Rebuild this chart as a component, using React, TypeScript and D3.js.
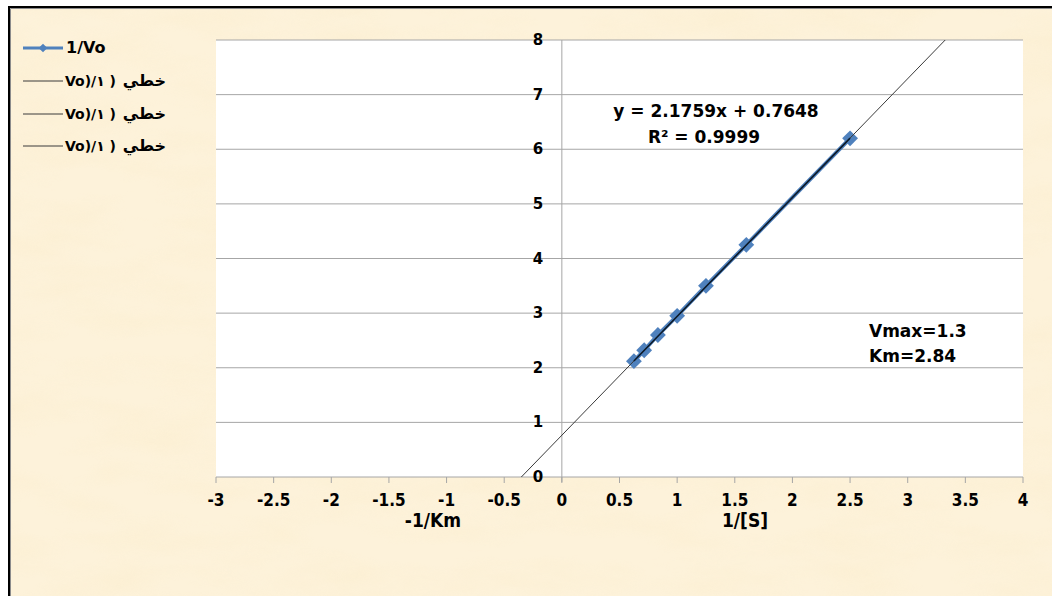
import React from 'react';
import * as d3 from 'd3';

// Lineweaver-Burk plot: 1/Vo against 1/[S], with the linear trendline
// extended back to the x axis (-1/Km).

const S_INV = [0.625, 0.714, 0.833, 1, 1.25, 1.6, 2.5];
const V_INV = [2.12, 2.32, 2.6, 2.95, 3.5, 4.25, 6.2];

const FIT_SLOPE = 2.1759;
const FIT_INTERCEPT = 0.7648;
const FIT_R2 = '0.9999';

const X_TICKS = [-3, -2.5, -2, -1.5, -1, -0.5, 0, 0.5, 1, 1.5, 2, 2.5, 3, 3.5, 4];
const Y_TICKS = [0, 1, 2, 3, 4, 5, 6, 7, 8];

const SERIES_NAME = '1/Vo';
// trendline legend entries, as they show on screen: latin part + arabic word
const TREND_NAMES = [
  ['Vo)/\u0661 )', 'خطي'],
  ['Vo)/\u0661 )', 'خطي'],
  ['Vo)/\u0661 )', 'خطي'],
];

const NOTES = ['Vmax=1.3', 'Km=2.84'];
const X_TITLES = ['-1/Km', '1/[S]'];

const W = 1052;
const H = 596;
const PLOT = { left: 216, right: 1023, top: 40, bottom: 477 };

const BLUE = '#4f81bd';
const GRID = '#a6a6a6';
const BOLD = "'DejaVu Sans', Verdana, sans-serif";
const COND = "'DejaVu Sans Condensed', 'DejaVu Sans', sans-serif";

const App = () => {
  const x = d3.scaleLinear().domain([-3, 4]).range([PLOT.left, PLOT.right]);
  const y = d3.scaleLinear().domain([0, 8]).range([PLOT.bottom, PLOT.top]);

  const pts: [number, number][] = S_INV.map((s, i) => [x(s), y(V_INV[i])]);
  const line = d3.line();

  // trendline, forecast both ways until it meets y=0 and y=8
  const xStart = -FIT_INTERCEPT / FIT_SLOPE;
  const xEnd = (8 - FIT_INTERCEPT) / FIT_SLOPE;
  const fit = (v: number) => FIT_SLOPE * v + FIT_INTERCEPT;
  const trendFull = line([[x(xStart), y(0)], [x(xEnd), y(8)]]);
  const sMin = d3.min(S_INV) as number;
  const sMax = d3.max(S_INV) as number;
  const trendData = line([[x(sMin), y(fit(sMin))], [x(sMax), y(fit(sMax))]]);

  const diamond = d3.symbol(d3.symbolSquare, 125)();

  const legendY = [48, 81, 114, 146];

  return (
    <svg width={W} height={H} style={{ position: 'absolute', left: 0, top: 0 }}>
      <defs>
        <filter id="paper" x="0" y="0" width="100%" height="100%">
          <feTurbulence type="fractalNoise" baseFrequency="0.01 0.03" numOctaves="4" seed="7" />
          <feColorMatrix
            type="matrix"
            values="0 0 0 0 0.97  0 0 0 0 0.86  0 0 0 0 0.64  1.8 0 0 0 -0.68"
          />
        </filter>
      </defs>

      <rect x={0} y={0} width={W} height={H} fill="#fff" />
      <rect x={9} y={7} width={W - 9} height={H - 7} fill="#fdf2da" />
      <rect x={9} y={7} width={W - 9} height={H - 7} filter="url(#paper)" opacity={0.75} />
      <path d={`M9,${H}V7H${W}`} fill="none" stroke="#000" strokeWidth={2} />
      <path d={`M10.5,${H}V8.5H${W}`} fill="none" stroke="#8c8c8c" strokeWidth={1} />

      <rect
        x={PLOT.left}
        y={PLOT.top}
        width={PLOT.right - PLOT.left}
        height={PLOT.bottom - PLOT.top}
        fill="#fff"
      />

      {Y_TICKS.map(t => (
        <line key={t} x1={PLOT.left} x2={PLOT.right} y1={y(t)} y2={y(t)} stroke={GRID} strokeWidth={1} />
      ))}
      <line x1={x(0)} x2={x(0)} y1={PLOT.top} y2={PLOT.bottom + 5} stroke={GRID} strokeWidth={1} />

      {X_TICKS.map(t => (
        <g key={t}>
          <line x1={x(t)} x2={x(t)} y1={PLOT.bottom} y2={PLOT.bottom + 6} stroke={GRID} strokeWidth={1} />
          <text
            x={x(t)}
            y={PLOT.bottom + 29}
            textAnchor="middle"
            fontFamily={COND}
            fontWeight="bold"
            fontSize={17}
            fill="#000"
          >
            {String(t)}
          </text>
        </g>
      ))}

      {Y_TICKS.map(t => (
        <text
          key={t}
          x={x(0) - 24}
          y={y(t) + 5}
          textAnchor="middle"
          fontFamily={BOLD}
          fontWeight="bold"
          fontSize={15}
          fill="#000"
        >
          {t}
        </text>
      ))}

      <text x={433} y={527} textAnchor="middle" fontFamily={COND} fontWeight="bold" fontSize={19}>
        {X_TITLES[0]}
      </text>
      <text x={745} y={527} textAnchor="middle" fontFamily={COND} fontWeight="bold" fontSize={19}>
        {X_TITLES[1]}
      </text>

      <path d={line(pts) || ''} fill="none" stroke={BLUE} strokeWidth={4} strokeLinejoin="round" />
      {pts.map((p, i) => (
        <path key={i} d={diamond || ''} transform={`translate(${p[0]},${p[1]}) rotate(45)`} fill={BLUE} />
      ))}
      <path d={trendFull || ''} fill="none" stroke="#3a3a3a" strokeWidth={1} />
      <path d={trendData || ''} fill="none" stroke="#0d1b2a" strokeWidth={1.6} />

      <text x={716} y={117} textAnchor="middle" fontFamily={BOLD} fontWeight="bold" fontSize={17}>
        {`y = ${FIT_SLOPE}x + ${FIT_INTERCEPT}`}
      </text>
      <text x={704} y={143} textAnchor="middle" fontFamily={BOLD} fontWeight="bold" fontSize={17}>
        {`R\u00b2 = ${FIT_R2}`}
      </text>

      <text x={869} y={337} fontFamily={BOLD} fontWeight="bold" fontSize={17}>
        {NOTES[0]}
      </text>
      <text x={869} y={362} fontFamily={BOLD} fontWeight="bold" fontSize={17}>
        {NOTES[1]}
      </text>

      <g>
        <line x1={23} x2={63} y1={legendY[0]} y2={legendY[0]} stroke={BLUE} strokeWidth={3} />
        <path d={diamond || ''} transform={`translate(43,${legendY[0]}) rotate(45) scale(0.55)`} fill={BLUE} />
        <text x={66} y={legendY[0] + 5} fontFamily={BOLD} fontWeight="bold" fontSize={16}>
          {SERIES_NAME}
        </text>
        {TREND_NAMES.map((n, i) => {
          const ly = legendY[i + 1];
          return (
            <g key={i}>
              <line x1={23} x2={63} y1={ly} y2={ly} stroke="#3a3a3a" strokeWidth={1} />
              <text
                x={65}
                y={ly + 5}
                fontFamily={BOLD}
                fontWeight="bold"
                fontSize={14}
                style={{ unicodeBidi: 'bidi-override', direction: 'ltr' }}
              >
                {n[0]}
              </text>
              <text x={166} y={ly + 5} textAnchor="end" fontFamily={BOLD} fontWeight="bold" fontSize={16}>
                {n[1]}
              </text>
            </g>
          );
        })}
      </g>
    </svg>
  );
};

export default App;
